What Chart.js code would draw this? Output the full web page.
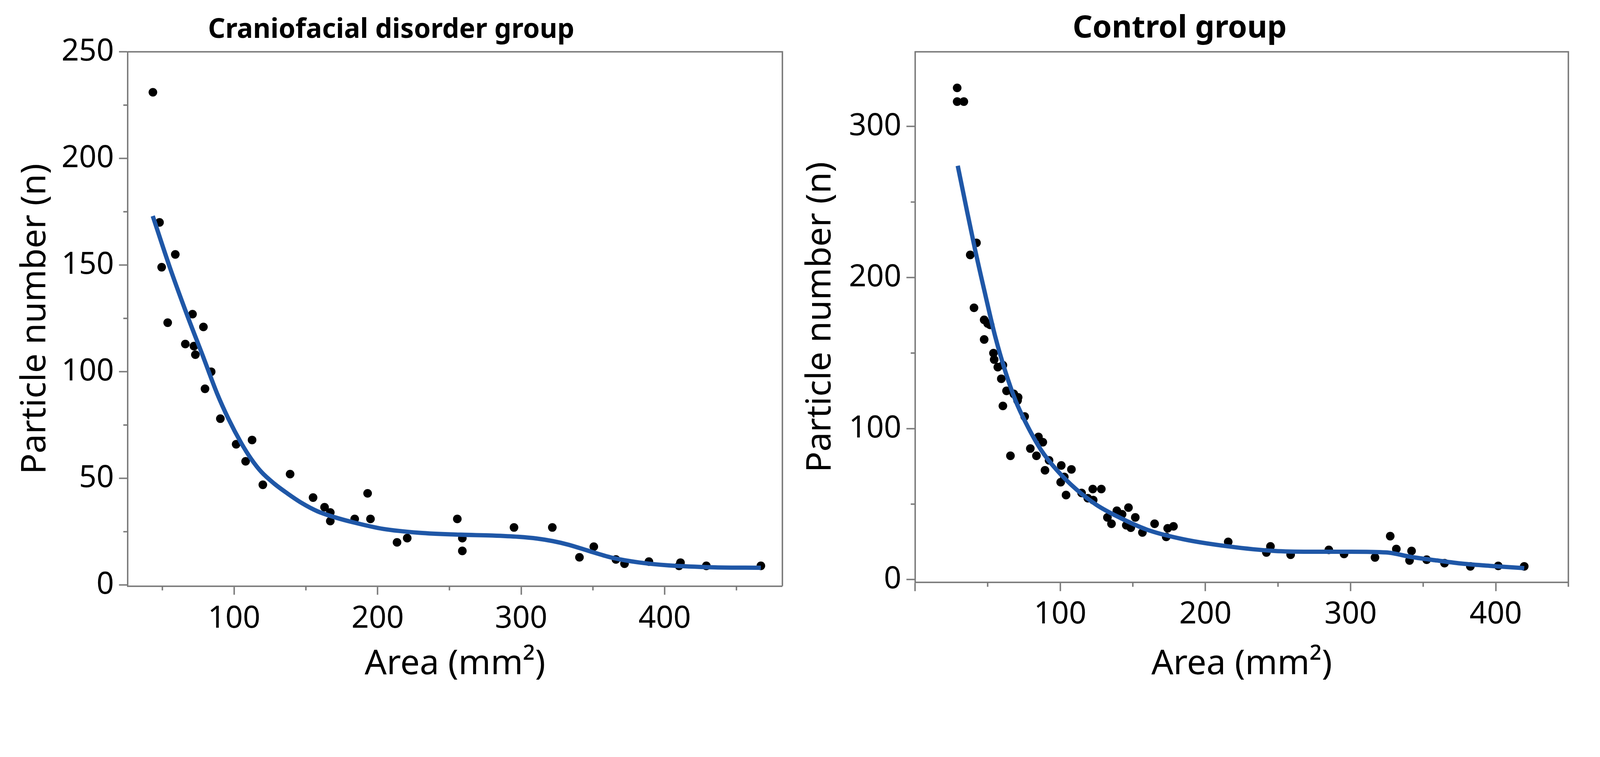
<!DOCTYPE html>
<html>
<head>
<meta charset="utf-8">
<title>Particle number vs area</title>
<script src="https://cdn.jsdelivr.net/npm/chart.js@4.4.1/dist/chart.umd.min.js"></script>
<style>
  html, body { margin: 0; padding: 0; background: #fff; overflow: hidden; }
  canvas { position: absolute; top: 0; }
</style>
</head>
<body>
<canvas id="leftChart"></canvas>
<canvas id="rightChart"></canvas>
<script>
// Craniofacial disorder group: measured points
const craniofacialArea = [43.4, 48, 49.5, 53.7, 59, 66, 71, 72, 73, 78.6, 79.7, 84, 90.4, 101.4, 108, 112.5, 120, 139, 155, 163, 167, 167, 184, 193, 195, 213.5, 220.6, 255.5, 259, 259, 295, 321.7, 340.6, 350.6, 366, 372, 389, 410, 411, 429, 467];
const craniofacialCount = [231, 170, 149, 123, 155, 113, 127, 112, 108, 121, 92, 100, 78, 66, 58, 68, 47, 52, 41, 36.5, 34, 30, 31, 43, 31, 20, 22, 31, 22, 16, 27, 27, 13, 18, 12, 10, 11, 9, 10.5, 9, 9];

// Craniofacial disorder group: fitted curve
const craniofacialFitArea = [43.3, 55, 67, 79, 88, 96, 105, 112, 119, 128, 137, 147, 158, 170, 183, 204, 229, 258, 280, 298, 311, 322, 333, 348, 364, 382, 403, 435, 467];
const craniofacialFitCount = [173, 149.3, 127, 106, 90, 78, 66.5, 59, 53, 47.5, 43, 38.5, 34.6, 31.8, 29.4, 26.3, 24.5, 23.6, 23.2, 22.6, 21.8, 20.6, 18.9, 15.8, 12.7, 10.6, 9.2, 8.3, 8.1];

// Control group: measured points
const controlArea = [29, 29, 33.6, 38, 42.3, 40.6, 47.6, 47.6, 50, 51.7, 54, 54.5, 57, 60.5, 59.4, 60.5, 63, 65.7, 68, 70.6, 71, 75.5, 79.4, 83.6, 85, 88, 89.5, 92.3, 100.7, 100.3, 102.8, 104, 107.7, 114.7, 119, 122.4, 122.7, 128.3, 132.5, 135.3, 139, 142.6, 147, 145.5, 148.6, 151.7, 156.6, 165, 173, 174, 178, 215.7, 242, 244.8, 258.7, 285, 295.5, 316.8, 327.3, 331.5, 340.6, 342, 352.4, 364.7, 382.5, 401.7, 419.6];
const controlCount = [325.6, 316.5, 316.5, 215, 223, 180, 172, 159, 169.6, 168.7, 150, 145.7, 140.7, 142, 133, 115, 125, 82, 123, 118.6, 120.7, 108, 86.8, 82, 94.5, 91, 72.4, 79, 75.6, 64.5, 68, 56, 73, 57.4, 53.9, 60, 52.7, 60, 41.2, 37, 45.6, 43.3, 47.7, 36, 34.4, 41.2, 31.2, 37, 28.3, 34, 35.3, 25, 18, 22, 16.5, 19.7, 17, 14.7, 28.8, 20.3, 12.7, 19, 13.2, 10.9, 8.8, 9.1, 8.8];

// Control group: fitted curve
const controlFitArea = [29.4, 34.3, 41.3, 48.3, 55.2, 62.2, 69.2, 76.2, 86.7, 97.2, 111, 125, 139, 160, 184.6, 216, 247.6, 272, 300, 324.5, 342, 359.4, 377, 398, 419.6];
const controlFitCount = [274, 251, 218.7, 189, 161, 137.8, 118.6, 104, 86, 73, 59.8, 49.5, 42, 33, 26.8, 22, 19, 18.5, 18.5, 18, 15, 12.7, 10.6, 9, 7.6];

// Ticks
const craniofacialXTicks = [100, 200, 300, 400];
const craniofacialXTickLabels = ['100', '200', '300', '400'];
const craniofacialXMinor = [50, 150, 250, 350, 450];
const craniofacialYTicks = [0, 50, 100, 150, 200, 250];
const craniofacialYTickLabels = ['0', '50', '100', '150', '200', '250'];
const craniofacialYMinor = [25, 75, 125, 175, 225];

const controlXTicks = [0, 100, 200, 300, 400];
const controlXTickLabels = ['', '100', '200', '300', '400'];
const controlXMinor = [50, 150, 250, 350, 450];
const controlYTicks = [0, 100, 200, 300];
const controlYTickLabels = ['0', '100', '200', '300'];
const controlYMinor = [50, 150, 250];

const FONT = '"Noto Sans", "Open Sans", sans-serif';
const AXIS_GREY = '#7a7a7a';
const CURVE_BLUE = '#1f57a7';

// the layout is measured on a 4450 x 1938 picture; scale it to the real viewport
const k = Math.min(window.innerWidth / 4450, window.innerHeight / 1938) || 1;
const px = v => v * k;

// frame on top/right plus the short minor ticks
const frameAndMinorTicks = {
    id: 'frameAndMinorTicks',
    afterDraw(chart, args, opts) {
        const { ctx, chartArea: a, scales } = chart;
        ctx.save();
        ctx.strokeStyle = AXIS_GREY;
        ctx.lineWidth = px(4);
        ctx.beginPath();
        ctx.moveTo(a.left, a.top);
        ctx.lineTo(a.right, a.top);
        ctx.lineTo(a.right, a.bottom);
        opts.xMinor.forEach(v => {
            const x = scales.x.getPixelForValue(v);
            ctx.moveTo(x, a.bottom);
            ctx.lineTo(x, a.bottom + px(12));
        });
        opts.yMinor.forEach(v => {
            const y = scales.y.getPixelForValue(v);
            ctx.moveTo(a.left, y);
            ctx.lineTo(a.left - px(12), y);
        });
        ctx.stroke();
        ctx.restore();
    }
};

function makeChart(id, s) {
    const canvas = document.getElementById(id);
    canvas.width = Math.round(px(s.width));
    canvas.height = Math.round(px(1938));
    canvas.style.left = px(s.left) + 'px';

    return new Chart(canvas.getContext('2d'), {
        type: 'scatter',
        data: {
            datasets: [
                {
                    label: 'fit',
                    data: s.fitX.map((x, i) => ({ x, y: s.fitY[i] })),
                    showLine: true,
                    borderColor: CURVE_BLUE,
                    borderWidth: px(12),
                    pointRadius: 0,
                    cubicInterpolationMode: 'monotone',
                    order: 0
                },
                {
                    label: 'points',
                    data: s.x.map((x, i) => ({ x, y: s.y[i] })),
                    backgroundColor: '#000',
                    borderWidth: 0,
                    pointRadius: px(12),
                    order: 1
                }
            ]
        },
        options: {
            responsive: false,
            animation: false,
            layout: { padding: { left: 0, right: px(s.padRight), top: 0, bottom: 0 } },
            plugins: {
                legend: { display: false },
                tooltip: { enabled: false },
                title: {
                    display: true,
                    text: s.title,
                    color: '#000',
                    font: { family: FONT, size: px(s.titleSize), weight: 'bold' },
                    padding: { top: px(s.titlePadTop), bottom: px(144 - s.titlePadTop - s.titleSize * 1.2) }
                },
                frameAndMinorTicks: { xMinor: s.xMinor, yMinor: s.yMinor }
            },
            scales: {
                x: {
                    type: 'linear',
                    min: s.xMin,
                    max: s.xMax,
                    afterBuildTicks: axis => { axis.ticks = s.xTicks.map(v => ({ value: v })); },
                    afterFit: axis => { axis.height = px(s.xAxisHeight); },
                    grid: { drawOnChartArea: false, drawTicks: true, tickLength: px(24), tickColor: AXIS_GREY, tickWidth: px(4) },
                    border: { display: true, color: AXIS_GREY, width: px(4) },
                    ticks: {
                        color: '#000',
                        font: { family: FONT, size: px(85) },
                        padding: px(s.xTickPad),
                        maxRotation: 0,
                        autoSkip: false,
                        callback: (v, i) => s.xTickLabels[i]
                    },
                    title: {
                        display: true,
                        text: 'Area (mm²)',
                        color: '#000',
                        font: { family: FONT, size: px(96) },
                        padding: { top: 0, bottom: px(33) }
                    }
                },
                y: {
                    type: 'linear',
                    min: s.yMin,
                    max: s.yMax,
                    afterBuildTicks: axis => { axis.ticks = s.yTicks.map(v => ({ value: v })); },
                    afterFit: axis => { axis.width = px(s.yAxisWidth); },
                    grid: { drawOnChartArea: false, drawTicks: true, tickLength: px(24), tickColor: AXIS_GREY, tickWidth: px(4) },
                    border: { display: true, color: AXIS_GREY, width: px(4) },
                    ticks: {
                        color: '#000',
                        font: { family: FONT, size: px(85) },
                        padding: px(14),
                        autoSkip: false,
                        callback: (v, i) => s.yTickLabels[i]
                    },
                    title: {
                        display: true,
                        text: 'Particle number (n)',
                        color: '#000',
                        font: { family: FONT, size: px(96) },
                        padding: { top: px(s.yTitlePad), bottom: 0 }
                    }
                }
            }
        },
        plugins: [frameAndMinorTicks]
    });
}

makeChart('leftChart', {
    title: 'Craniofacial disorder group', titleSize: 75, titlePadTop: 39,
    left: 0, width: 2200,
    x: craniofacialArea, y: craniofacialCount,
    fitX: craniofacialFitArea, fitY: craniofacialFitCount,
    xMin: 25.8, xMax: 482, yMin: -0.5, yMax: 250,
    xTicks: craniofacialXTicks, xTickLabels: craniofacialXTickLabels, xMinor: craniofacialXMinor,
    yTicks: craniofacialYTicks, yTickLabels: craniofacialYTickLabels, yMinor: craniofacialYMinor,
    padRight: 24, yAxisWidth: 355, xAxisHeight: 308, xTickPad: 17, yTitlePad: 41
});

makeChart('rightChart', {
    title: 'Control group', titleSize: 86, titlePadTop: 28,
    left: 2200, width: 2250,
    x: controlArea, y: controlCount,
    fitX: controlFitArea, fitY: controlFitCount,
    xMin: 0, xMax: 450, yMin: -1.9, yMax: 349.5,
    xTicks: controlXTicks, xTickLabels: controlXTickLabels, xMinor: controlXMinor,
    yTicks: controlYTicks, yTickLabels: controlYTickLabels, yMinor: controlYMinor,
    padRight: 88, yAxisWidth: 345, xAxisHeight: 318, xTickPad: 15, yTitlePad: 25
});
</script>
</body>
</html>
